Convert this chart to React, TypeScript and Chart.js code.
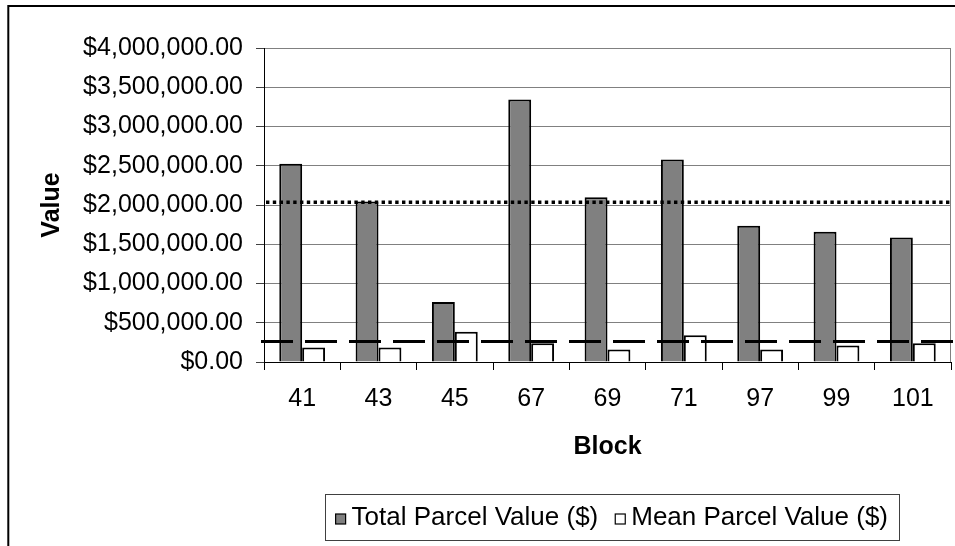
import React, { useEffect, useRef } from "react";
import { Chart, registerables } from "chart.js";

Chart.register(...registerables);

// Parcel values by block
const blocks = ["41", "43", "45", "67", "69", "71", "97", "99", "101"];
const totalParcelValue = [2525000, 2045000, 765000, 3345000, 2100000, 2580000, 1735000, 1660000, 1585000];
const meanParcelValue = [185000, 185000, 385000, 240000, 160000, 340000, 160000, 210000, 240000];
const seriesLabels = ["Total Parcel Value ($)", "Mean Parcel Value ($)"];
const seriesColors = ["#808080", "#ffffff"];

// Horizontal reference levels: average of totals (dotted) and average of means (dashed)
const averageTotalLevel = 2035000;
const averageMeanLevel = 262000;

const valueTicks = [0, 500000, 1000000, 1500000, 2000000, 2500000, 3000000, 3500000, 4000000];

const FONT = "'Liberation Sans', Arial, Helvetica, sans-serif";

function formatDollars(v: number): string {
  const whole = Math.round(v).toString().replace(/\B(?=(\d{3})+(?!\d))/g, ",");
  return "$" + whole + ".00";
}

const decorations = {
  id: "decorations",
  beforeDraw(chart: any) {
    const { ctx, width, height } = chart;
    ctx.save();
    ctx.fillStyle = "#ffffff";
    ctx.fillRect(0, 0, width, height);
    // outer chart frame
    ctx.strokeStyle = "#000000";
    ctx.lineWidth = 2;
    ctx.beginPath();
    ctx.moveTo(8.3, height + 10);
    ctx.lineTo(8.3, 6);
    ctx.lineTo(width + 10, 6);
    ctx.stroke();
    ctx.restore();
  },
  beforeDatasetsDraw(chart: any) {
    const { ctx, chartArea } = chart;
    ctx.save();
    ctx.strokeStyle = "#808080";
    ctx.lineWidth = 1;
    ctx.beginPath();
    ctx.moveTo(Math.round(chartArea.right) - 0.5, chartArea.top);
    ctx.lineTo(Math.round(chartArea.right) - 0.5, chartArea.bottom);
    ctx.stroke();
    ctx.restore();
  },
  afterDatasetsDraw(chart: any) {
    const { ctx, chartArea } = chart;
    const y = chart.scales.y;
    ctx.save();
    ctx.strokeStyle = "#000000";
    // dotted level
    const yd = y.getPixelForValue(averageTotalLevel);
    ctx.lineWidth = 3.3;
    ctx.setLineDash([3.4, 3.4]);
    ctx.beginPath();
    ctx.moveTo(chartArea.left + 2, yd);
    ctx.lineTo(chartArea.right, yd);
    ctx.stroke();
    // dashed level
    const ym = y.getPixelForValue(averageMeanLevel);
    ctx.lineWidth = 3;
    ctx.setLineDash([32, 12]);
    ctx.beginPath();
    ctx.moveTo(chartArea.left - 3, ym);
    ctx.lineTo(chartArea.right + 3, ym);
    ctx.stroke();
    ctx.restore();
  },
  afterDraw(chart: any) {
    // boxed legend below the axis title
    const { ctx } = chart;
    ctx.save();
    ctx.font = "26px " + FONT;
    const marker = 10;
    const markerGap = 6;
    const itemGap = 17;
    const pad = 11;
    const widths = seriesLabels.map((t) => ctx.measureText(t).width);
    const inner = widths.reduce((s, w) => s + marker + markerGap + w, 0) + itemGap * (seriesLabels.length - 1);
    const boxRight = 899;
    const boxLeft = boxRight - inner - pad * 2;
    const boxTop = 494;
    const boxBottom = 540;
    const cy = (boxTop + boxBottom) / 2;
    ctx.strokeStyle = "#404040";
    ctx.lineWidth = 1;
    ctx.strokeRect(Math.round(boxLeft) + 0.5, boxTop + 0.5, Math.round(boxRight - boxLeft), boxBottom - boxTop);
    let x = boxLeft + pad;
    ctx.textBaseline = "middle";
    ctx.textAlign = "left";
    seriesLabels.forEach((label, i) => {
      ctx.fillStyle = seriesColors[i];
      ctx.fillRect(x, cy - marker / 2 + 2, marker, marker);
      ctx.strokeStyle = "#000000";
      ctx.lineWidth = 1.2;
      ctx.strokeRect(x, cy - marker / 2 + 2, marker, marker);
      x += marker + markerGap;
      ctx.fillStyle = "#000000";
      ctx.fillText(label, x, cy + 1);
      x += widths[i] + itemGap;
    });
    ctx.restore();
  },
};

export default function App() {
  const canvasRef = useRef<HTMLCanvasElement | null>(null);

  useEffect(() => {
    document.body.style.margin = "0";
    const canvas = canvasRef.current;
    if (!canvas) return;
    const chart = new Chart(canvas, {
      type: "bar",
      data: {
        labels: blocks,
        datasets: [
          {
            label: seriesLabels[0],
            data: totalParcelValue,
            backgroundColor: seriesColors[0],
            borderColor: "#000000",
            borderWidth: 2,
            categoryPercentage: 0.6,
            barPercentage: 1,
          },
          {
            label: seriesLabels[1],
            data: meanParcelValue,
            backgroundColor: seriesColors[1],
            borderColor: "#000000",
            borderWidth: 2,
            categoryPercentage: 0.6,
            barPercentage: 1,
          },
        ],
      },
      options: {
        responsive: false,
        animation: false,
        devicePixelRatio: 1,
        layout: { padding: { top: 48, right: 4, left: 0, bottom: 0 } },
        plugins: {
          legend: { display: false },
          tooltip: { enabled: false },
        },
        scales: {
          x: {
            afterFit: (s: any) => {
              s.height = 184;
            },
            grid: {
              display: true,
              offset: true,
              drawOnChartArea: false,
              drawTicks: true,
              tickLength: 8,
              color: "#000000",
            },
            border: { color: "#000000", width: 1 },
            ticks: {
              color: "#000000",
              padding: 14,
              font: { family: FONT, size: 25 },
              maxRotation: 0,
              autoSkip: false,
            },
            title: {
              display: true,
              text: "Block",
              color: "#000000",
              font: { family: FONT, size: 25, weight: "bold" },
              padding: { top: 0, bottom: 84 },
            },
          },
          y: {
            min: 0,
            max: 4000000,
            afterFit: (s: any) => {
              s.width = 264;
            },
            afterBuildTicks: (s: any) => {
              s.ticks = valueTicks.map((v) => ({ value: v }));
            },
            grid: {
              color: "#808080",
              lineWidth: 1,
              tickLength: 8,
              tickColor: "#404040",
            },
            border: { color: "#000000", width: 1 },
            ticks: {
              color: "#000000",
              padding: 13,
              font: { family: FONT, size: 25 },
              callback: (v: any) => formatDollars(Number(v)),
            },
            title: {
              display: true,
              text: "Value",
              color: "#000000",
              font: { family: FONT, size: 25, weight: "bold" },
              padding: { top: 37, bottom: 0 },
            },
          },
        },
      },
      plugins: [decorations],
    });
    return () => chart.destroy();
  }, []);

  return (
    <div style={{ position: "absolute", left: 0, top: 0, width: 955, height: 546 }}>
      <canvas ref={canvasRef} width={955} height={546} />
    </div>
  );
}
